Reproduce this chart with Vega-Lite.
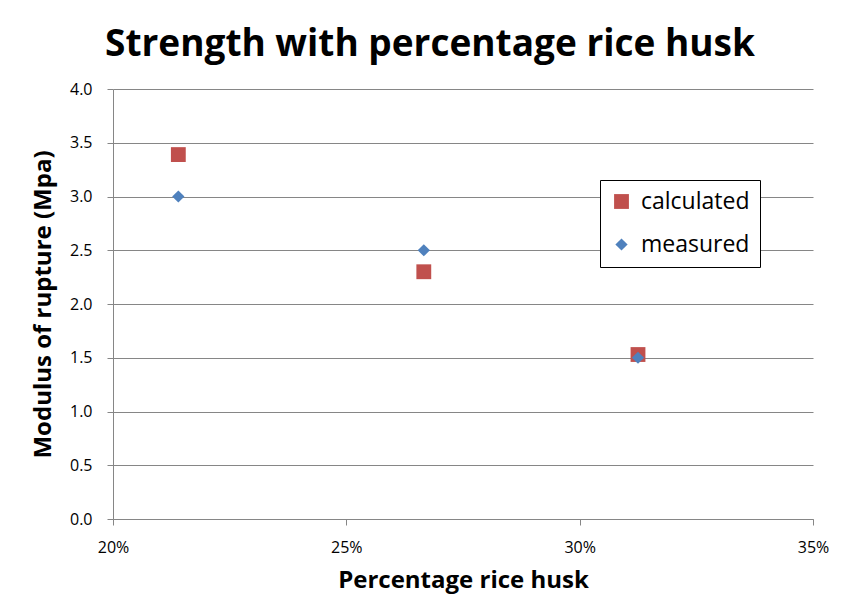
{
  "$schema": "https://vega.github.io/schema/vega-lite/v6.json",
  "autosize": {"type": "none"},
  "width": 700,
  "height": 430,
  "padding": {"left": 113, "top": 89, "right": 28, "bottom": 94},
  "background": "white",
  "title": {
    "text": "Strength with percentage rice husk",
    "font": "Open Sans",
    "fontSize": 37,
    "fontWeight": "bold",
    "color": "#000000",
    "anchor": "middle",
    "dx": -33,
    "offset": 17
  },
  "data": {
    "values": [
      {"husk": 0.214, "mor": 3.39, "series": "calculated"},
      {"husk": 0.2666, "mor": 2.3, "series": "calculated"},
      {"husk": 0.3125, "mor": 1.53, "series": "calculated"},
      {"husk": 0.214, "mor": 3.0, "series": "measured"},
      {"husk": 0.2666, "mor": 2.5, "series": "measured"},
      {"husk": 0.3125, "mor": 1.5, "series": "measured"}
    ]
  },
  "mark": {"type": "point", "filled": true, "opacity": 1, "strokeWidth": 0},
  "encoding": {
    "x": {
      "field": "husk",
      "type": "quantitative",
      "scale": {"domain": [0.2, 0.35], "nice": false, "zero": false},
      "axis": {
        "title": "Percentage rice husk",
        "format": ".0%",
        "values": [0.2, 0.25, 0.3, 0.35],
        "grid": false,
        "domainColor": "#868686",
        "tickColor": "#868686",
        "tickSize": 6,
        "labelFont": "Open Sans",
        "labelFontSize": 16,
        "labelColor": "#000000",
        "labelPadding": 14,
        "labelFlush": false,
        "titleFont": "Open Sans",
        "titleFontSize": 24,
        "titleFontWeight": "bold",
        "titleColor": "#000000",
        "titlePadding": 13
      }
    },
    "y": {
      "field": "mor",
      "type": "quantitative",
      "scale": {"domain": [0, 4], "nice": false},
      "axis": {
        "title": "Modulus of rupture (Mpa)",
        "format": ".1f",
        "values": [0, 0.5, 1, 1.5, 2, 2.5, 3, 3.5, 4],
        "grid": true,
        "gridColor": "#868686",
        "domainColor": "#868686",
        "tickColor": "#868686",
        "tickSize": 6,
        "labelFont": "Open Sans",
        "labelFontSize": 16,
        "labelColor": "#000000",
        "labelPadding": 15,
        "titleFont": "Open Sans",
        "titleFontSize": 24,
        "titleFontWeight": "bold",
        "titleColor": "#000000",
        "titlePadding": 14
      }
    },
    "color": {
      "field": "series",
      "type": "nominal",
      "scale": {"domain": ["calculated", "measured"], "range": ["#C0504D", "#4F81BD"]},
      "legend": {
        "title": null,
        "orient": "none",
        "legendX": 487,
        "legendY": 91,
        "strokeColor": "#000000",
        "padding": 10,
        "fillColor": "white",
        "labelFont": "Open Sans",
        "labelFontSize": 23,
        "labelColor": "#000000",
        "labelOffset": 8,
        "symbolSize": 220,
        "rowPadding": 19,
        "symbolStrokeWidth": 0
      }
    },
    "shape": {
      "field": "series",
      "type": "nominal",
      "scale": {"domain": ["calculated", "measured"], "range": ["square", "diamond"]}
    },
    "size": {
      "field": "series",
      "type": "nominal",
      "scale": {"domain": ["calculated", "measured"], "range": [220, 150]},
      "legend": null
    }
  },
  "config": {"view": {"stroke": null}}
}
